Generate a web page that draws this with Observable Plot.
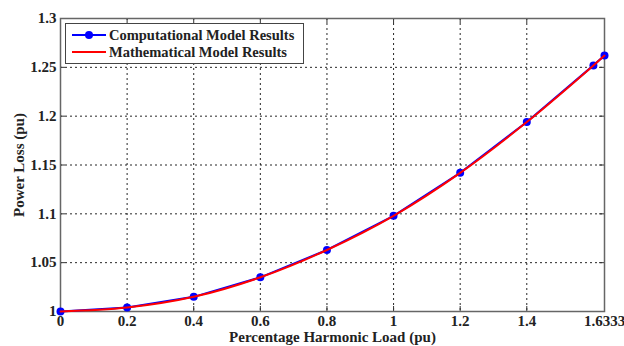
<!DOCTYPE html>
<html><head><meta charset="utf-8">
<script src="https://cdn.jsdelivr.net/npm/d3@7"></script>
<script src="https://cdn.jsdelivr.net/npm/@observablehq/plot@0.6"></script>
<style>
body{margin:0;background:#fff;}
#wrap{position:relative;width:624px;height:346px;font-family:'Liberation Serif','DejaVu Serif',serif;color:#222;}
#wrap svg text{font-family:'Liberation Serif','DejaVu Serif',serif;font-weight:bold;}
#legend{position:absolute;left:65px;top:23px;width:237px;height:39px;border:1px solid #444;background:#fff;font-size:14.5px;font-weight:bold;}
#legend .row{position:absolute;left:0;height:18px;display:flex;align-items:center;white-space:nowrap;}
#legend svg{margin-left:6px;margin-right:3px;}
</style></head>
<body><div id="wrap"></div>
<script>
const loads = [0, 0.2, 0.4, 0.6, 0.8, 1.0, 1.2, 1.4, 1.6, 1.6333];
const computational = [1.000, 1.004, 1.015, 1.035, 1.063, 1.098, 1.142, 1.194, 1.252, 1.262];
const mathematical = [1.000, 1.004, 1.015, 1.035, 1.063, 1.098, 1.142, 1.194, 1.252, 1.262];
const xTicks = [0, 0.2, 0.4, 0.6, 0.8, 1, 1.2, 1.4, 1.6333];
const yTicks = [1, 1.05, 1.1, 1.15, 1.2, 1.25, 1.3];
const xLabel = "Percentage Harmonic Load (pu)";
const yLabel = "Power Loss (pu)";
const seriesNames = ["Computational Model Results", "Mathematical Model Results"];
const seriesColors = ["#0000ff", "#ff0000"];

const comp = loads.map((x, i) => ({x, y: computational[i]}));
const math = loads.map((x, i) => ({x, y: mathematical[i]}));

const W = 624, H = 346, mt = 18, mb = 35, ml = 60, mr = 20;
const fh = H - mt - mb, fw = W - ml - mr;
const fmt = d => String(+(+d).toFixed(4));

const chart = Plot.plot({
  width: W, height: H,
  marginTop: mt, marginBottom: mb, marginLeft: ml, marginRight: mr,
  style: {fontFamily: "'Liberation Serif','DejaVu Serif',serif", fontSize: "15px", color: "#222", background: "#fff"},
  x: {domain: [0, 1.6333]},
  y: {domain: [1, 1.3]},
  marks: [
    Plot.gridX(xTicks, {stroke: "#000", strokeOpacity: 0.85, strokeDasharray: "2,3"}),
    Plot.gridY(yTicks, {stroke: "#000", strokeOpacity: 0.85, strokeDasharray: "2,3"}),
    Plot.ruleX(xTicks, {x: d => d, insetTop: fh - 5, stroke: "#333"}),
    Plot.ruleX(xTicks, {x: d => d, insetBottom: fh - 5, stroke: "#333"}),
    Plot.ruleY(yTicks, {y: d => d, insetRight: fw - 5, stroke: "#333"}),
    Plot.ruleY(yTicks, {y: d => d, insetLeft: fw - 5, stroke: "#333"}),
    Plot.axisX(xTicks, {tickSize: 0, tickPadding: 4, fontSize: 15, tickFormat: fmt, label: xLabel, labelAnchor: "center", labelArrow: "none", labelOffset: 30}),
    Plot.axisY(yTicks, {tickSize: 0, tickPadding: 4, fontSize: 15, tickFormat: fmt, label: yLabel, labelAnchor: "center", labelArrow: "none", labelOffset: 47}),
    Plot.frame({stroke: "#666", strokeWidth: 1.5}),
    Plot.line(comp, {x: "x", y: "y", stroke: seriesColors[0], strokeWidth: 2}),
    Plot.dot(comp, {x: "x", y: "y", r: 4, fill: seriesColors[0], stroke: "none"}),
    Plot.line(math, {x: "x", y: "y", stroke: seriesColors[1], strokeWidth: 2, curve: "monotone-x"})
  ]
});
const wrap = document.getElementById("wrap");
wrap.appendChild(chart);

const legend = document.createElement("div");
legend.id = "legend";
seriesNames.forEach((name, i) => {
  const row = document.createElement("div");
  row.className = "row";
  row.style.top = (i === 0 ? 2 : 19) + "px";
  const dot = i === 0 ? `<circle cx="17" cy="9" r="4" fill="${seriesColors[i]}"/>` : "";
  row.innerHTML = `<svg width="34" height="18"><line x1="0" x2="34" y1="9" y2="9" stroke="${seriesColors[i]}" stroke-width="2"/>${dot}</svg><span>${name}</span>`;
  legend.appendChild(row);
});
wrap.appendChild(legend);
</script></body></html>
